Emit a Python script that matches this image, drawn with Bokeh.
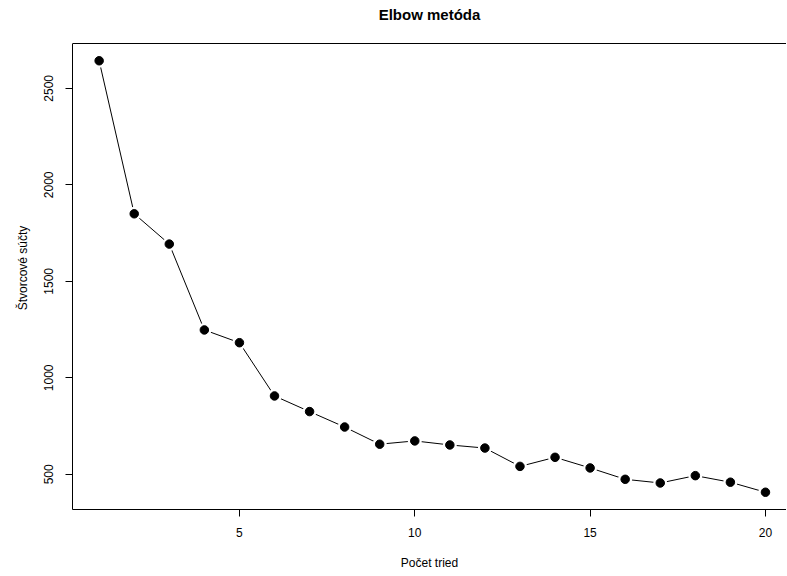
from bokeh.plotting import figure
from bokeh.models import Range1d, FixedTicker, Span
from bokeh.embed import file_html
from bokeh.resources import INLINE

# Data
k_values = list(range(1, 21))
wss = [2643, 1850, 1693, 1248, 1182, 906, 825, 745, 656, 673,
       652, 636, 541, 588, 533, 474, 455, 493, 459, 407]
x_ticks = [5, 10, 15, 20]
y_ticks = [500, 1000, 1500, 2000, 2500]

title_text = "Elbow metóda"
x_label = "Počet tried"
y_label = "Štvorcové súčty"

FONT = "Liberation Sans"

# R-style axis limits (4 % padding)
ymin, ymax = min(wss), max(wss)
yspan = ymax - ymin
ylo, yhi = ymin - 0.04 * yspan, ymax + 0.04 * yspan
xspan = max(k_values) - min(k_values)
xlo = min(k_values) - 0.04 * xspan

# layout (pixels)
W, H = 786, 572
BL, BR, BT, BB = 72, 0, 26, 60
FRAME_TOP, BOX_TOP, BOX_BOTTOM = 26, 43, 509
# extend the y range above the box so the title can sit high
y_end = yhi + (BOX_TOP - FRAME_TOP) / (BOX_BOTTOM - BOX_TOP) * (yhi - ylo)

p = figure(
    width=W, height=H,
    output_backend="svg", toolbar_location=None,
    x_range=Range1d(xlo, 20.6),
    y_range=Range1d(ylo, y_end),
    min_border_left=BL, min_border_right=BR,
    min_border_top=BT, min_border_bottom=BB,
)
p.background_fill_color = "white"
p.border_fill_color = "white"
p.outline_line_color = None
p.grid.visible = False

# Title
p.title.text = title_text
p.title.align = "center"
p.title.text_font = FONT
p.title.text_font_size = "15px"
p.title.text_font_style = "bold"
p.title.text_color = "black"
p.title.standoff = 7

# Axes
for ax in (p.xaxis[0], p.yaxis[0]):
    ax.axis_line_color = "black"
    ax.axis_line_width = 1
    ax.major_tick_line_color = "black"
    ax.major_tick_out = 7
    ax.major_tick_in = 0
    ax.minor_tick_line_color = None
    ax.major_label_text_font = FONT
    ax.major_label_text_font_size = "12px"
    ax.major_label_text_color = "black"
    ax.axis_label_text_font = FONT
    ax.axis_label_text_font_size = "12px"
    ax.axis_label_text_font_style = "normal"
    ax.axis_label_text_color = "black"

p.xaxis.ticker = FixedTicker(ticks=x_ticks)
p.yaxis.ticker = FixedTicker(ticks=y_ticks)
p.yaxis.bounds = (ylo, yhi)
p.xaxis.axis_label = x_label
p.yaxis.axis_label = y_label
p.xaxis.major_label_standoff = 11
p.xaxis.axis_label_standoff = 16
p.yaxis.major_label_standoff = 12
p.yaxis.major_label_orientation = "vertical"
p.yaxis.axis_label_standoff = 12

# top border of the box
p.add_layout(Span(location=yhi, dimension="width",
                  line_color="black", line_width=1))

# line + points (type="b" style gaps)
p.line(k_values, wss, line_color="black", line_width=1)
p.scatter(k_values, wss, size=14, fill_color="white", line_color=None)
p.scatter(k_values, wss, size=8.5, fill_color="black", line_color="black")

open("out.html", "w").write(file_html(p, INLINE))
